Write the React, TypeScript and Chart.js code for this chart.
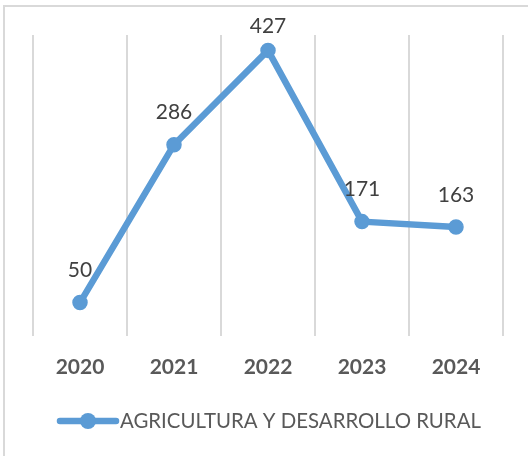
import React, { useEffect, useRef } from "react";
import { Chart, registerables } from "chart.js";

Chart.register(...registerables);

const categories = ["2020", "2021", "2022", "2023", "2024"];
const seriesName = "AGRICULTURA Y DESARROLLO RURAL";
const values = [50, 286, 427, 171, 163];

const LINE_COLOR = "#5B9BD5";
const FONT = "Lato, 'Open Sans', sans-serif";

const framePlugin = {
  id: "frame",
  beforeDraw(chart: any) {
    const ctx = chart.ctx;
    ctx.save();
    ctx.fillStyle = "#ffffff";
    ctx.fillRect(0, 0, chart.width, chart.height);
    ctx.strokeStyle = "#d9d9d9";
    ctx.lineWidth = 2;
    ctx.strokeRect(4, 6, chart.width + 20, chart.height + 20);
    ctx.restore();
  },
};

const labelPlugin = {
  id: "valueLabels",
  afterDatasetsDraw(chart: any) {
    const ctx = chart.ctx;
    const meta = chart.getDatasetMeta(0);
    const data = chart.data.datasets[0].data as number[];
    ctx.save();
    ctx.font = `21px ${FONT}`;
    ctx.fillStyle = "#404040";
    ctx.textAlign = "center";
    ctx.textBaseline = "middle";
    meta.data.forEach((pt: any, i: number) => {
      const y = Math.max(pt.y - 32, 26);
      ctx.fillText(String(data[i]), pt.x, y);
    });
    ctx.restore();
  },
};

const legendPlugin = {
  id: "customLegend",
  afterDraw(chart: any) {
    const ctx = chart.ctx;
    const ds = chart.data.datasets[0];
    const y = 421;
    const x0 = 60;
    const x1 = 116;
    ctx.save();
    ctx.strokeStyle = ds.borderColor;
    ctx.lineWidth = 6.5;
    ctx.lineCap = "round";
    ctx.beginPath();
    ctx.moveTo(x0, y);
    ctx.lineTo(x1, y);
    ctx.stroke();
    ctx.fillStyle = ds.pointBackgroundColor;
    ctx.beginPath();
    ctx.arc((x0 + x1) / 2, y, 8, 0, Math.PI * 2);
    ctx.fill();
    ctx.font = `20.4px ${FONT}`;
    ctx.fillStyle = "#595959";
    ctx.textAlign = "left";
    ctx.textBaseline = "middle";
    ctx.fillText(ds.label, 120, y);
    ctx.restore();
  },
};

export default function App() {
  const ref = useRef<HTMLCanvasElement | null>(null);

  useEffect(() => {
    if (!ref.current) return;
    const chart = new Chart(ref.current, {
      type: "line",
      data: {
        labels: categories,
        datasets: [
          {
            label: seriesName,
            data: values,
            borderColor: LINE_COLOR,
            backgroundColor: LINE_COLOR,
            pointBackgroundColor: LINE_COLOR,
            pointBorderColor: LINE_COLOR,
            borderWidth: 6.5,
            pointRadius: 7,
            pointBorderWidth: 1.5,
            tension: 0,
            borderJoinStyle: "round",
            borderCapStyle: "round",
          },
        ],
      },
      options: {
        responsive: false,
        animation: false,
        devicePixelRatio: 1,
        layout: { padding: { left: 33, right: 25, top: 35, bottom: 60 } },
        plugins: {
          legend: { display: false },
          tooltip: { enabled: false },
        },
        scales: {
          x: {
            type: "category",
            offset: true,
            border: { display: false },
            grid: {
              offset: true,
              color: "#d9d9d9",
              lineWidth: 2,
              drawTicks: false,
            },
            ticks: {
              color: "#595959",
              padding: 19,
              font: { family: FONT, size: 21, weight: "bold" },
            },
            afterFit(scale: any) {
              scale.height = 60;
            },
          },
          y: {
            display: false,
            min: 0,
            max: 450,
          },
        },
      },
      plugins: [framePlugin, labelPlugin, legendPlugin],
    });
    return () => chart.destroy();
  }, []);

  return (
    <div style={{ position: "fixed", left: 0, top: 0, width: 528, height: 456, background: "#fff" }}>
      <canvas ref={ref} width={528} height={456} style={{ display: "block", width: 528, height: 456 }} />
    </div>
  );
}
